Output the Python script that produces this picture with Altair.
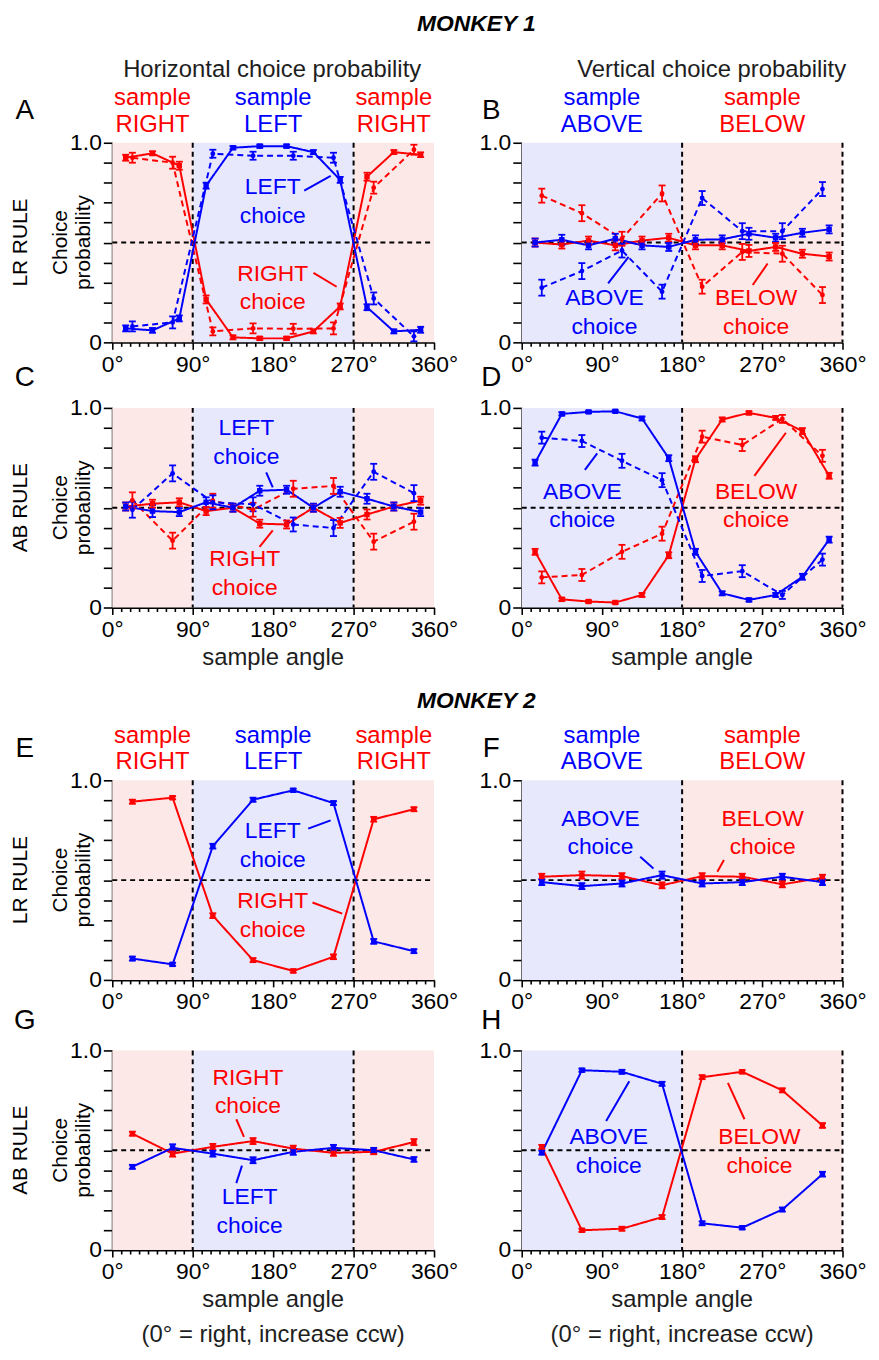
import altair as alt
import pandas as pd

FONT = "Liberation Sans"
RED = "#ff0000"
BLUE = "#0000ff"
PINK = "#fde8e8"
LAV = "#e8e8fc"
DARK = "#1e1e1e"

# ---------------- data ----------------
M1_SOLID = [15, 45, 75, 105, 135, 165, 195, 225, 255, 285, 315, 345]
M1_DASH = [22.5, 67.5, 112.5, 157.5, 202.5, 247.5, 292.5, 337.5]
M2_ANG = [22.5, 67.5, 112.5, 157.5, 202.5, 247.5, 292.5, 337.5]

# Panel A (monkey 1, LR rule, horizontal choice)
A_RED_S = [0.925, 0.947, 0.885, 0.215, 0.025, 0.02, 0.02, 0.055, 0.18, 0.83, 0.953, 0.94]
A_RED_S_E = [0.015, 0.01, 0.02, 0.02, 0.01, 0.008, 0.008, 0.01, 0.015, 0.02, 0.01, 0.012]
A_BLUE_S = [0.07, 0.06, 0.12, 0.785, 0.975, 0.983, 0.983, 0.953, 0.814, 0.176, 0.055, 0.063]
A_BLUE_S_E = [0.015, 0.012, 0.015, 0.015, 0.008, 0.008, 0.008, 0.01, 0.015, 0.015, 0.01, 0.015]
A_RED_D = [0.925, 0.90, 0.055, 0.07, 0.068, 0.07, 0.775, 0.965]
A_RED_D_E = [0.025, 0.03, 0.02, 0.025, 0.025, 0.03, 0.03, 0.025]
A_BLUE_D = [0.08, 0.10, 0.945, 0.935, 0.935, 0.925, 0.22, 0.03]
A_BLUE_D_E = [0.025, 0.03, 0.02, 0.02, 0.02, 0.025, 0.03, 0.025]

# Panel B (monkey 1, LR rule, vertical choice)
B_BLUE_S = [0.50, 0.514, 0.486, 0.519, 0.486, 0.478, 0.514, 0.516, 0.544, 0.524, 0.549, 0.566]
B_BLUE_S_E = [0.02, 0.025, 0.02, 0.025, 0.02, 0.02, 0.022, 0.02, 0.03, 0.02, 0.02, 0.02]
B_RED_S = [0.50, 0.49, 0.51, 0.486, 0.51, 0.524, 0.486, 0.486, 0.458, 0.478, 0.444, 0.43]
B_RED_S_E = [0.02, 0.02, 0.02, 0.025, 0.02, 0.02, 0.02, 0.02, 0.03, 0.02, 0.02, 0.02]
B_BLUE_D = [0.274, 0.357, 0.46, 0.254, 0.723, 0.557, 0.557, 0.768]
B_BLUE_D_E = [0.04, 0.04, 0.035, 0.035, 0.035, 0.04, 0.04, 0.035]
B_RED_D = [0.735, 0.647, 0.519, 0.746, 0.279, 0.453, 0.444, 0.237]
B_RED_D_E = [0.035, 0.04, 0.035, 0.04, 0.035, 0.04, 0.04, 0.04]

# Panel C (monkey 1, AB rule, horizontal choice)
C_BLUE_S = [0.506, 0.483, 0.478, 0.527, 0.5, 0.585, 0.59, 0.5, 0.58, 0.545, 0.506, 0.478]
C_BLUE_S_E = [0.02, 0.03, 0.02, 0.025, 0.02, 0.025, 0.02, 0.02, 0.025, 0.025, 0.02, 0.02]
C_RED_S = [0.506, 0.52, 0.527, 0.483, 0.5, 0.42, 0.416, 0.5, 0.424, 0.466, 0.506, 0.535]
C_RED_S_E = [0.02, 0.02, 0.02, 0.02, 0.02, 0.02, 0.02, 0.02, 0.025, 0.025, 0.02, 0.02]
C_BLUE_D = [0.49, 0.672, 0.527, 0.517, 0.416, 0.398, 0.68, 0.573]
C_BLUE_D_E = [0.04, 0.04, 0.035, 0.035, 0.035, 0.04, 0.04, 0.04]
C_RED_D = [0.537, 0.335, 0.535, 0.49, 0.595, 0.609, 0.33, 0.43]
C_RED_D_E = [0.04, 0.04, 0.035, 0.035, 0.04, 0.04, 0.04, 0.04]

# Panel D (monkey 1, AB rule, vertical choice)
D_BLUE_S = [0.726, 0.97, 0.98, 0.983, 0.947, 0.748, 0.279, 0.071, 0.038, 0.063, 0.154, 0.34]
D_BLUE_S_E = [0.015, 0.008, 0.006, 0.006, 0.01, 0.015, 0.015, 0.01, 0.008, 0.01, 0.015, 0.015]
D_RED_S = [0.279, 0.041, 0.03, 0.025, 0.063, 0.262, 0.743, 0.942, 0.975, 0.95, 0.884, 0.66]
D_RED_S_E = [0.015, 0.008, 0.006, 0.006, 0.01, 0.015, 0.015, 0.01, 0.008, 0.01, 0.015, 0.015]
D_BLUE_D = [0.851, 0.834, 0.735, 0.638, 0.158, 0.182, 0.063, 0.24]
D_BLUE_D_E = [0.03, 0.03, 0.035, 0.035, 0.03, 0.03, 0.02, 0.03]
D_RED_D = [0.151, 0.163, 0.279, 0.37, 0.856, 0.814, 0.945, 0.76]
D_RED_D_E = [0.03, 0.03, 0.035, 0.035, 0.03, 0.03, 0.02, 0.03]

# Panel E (monkey 2, LR rule, horizontal choice)
E_RED = [0.893, 0.913, 0.322, 0.099, 0.045, 0.116, 0.805, 0.855]
E_RED_E = [0.01, 0.008, 0.012, 0.01, 0.008, 0.012, 0.012, 0.01]
E_BLUE = [0.107, 0.078, 0.67, 0.903, 0.95, 0.886, 0.193, 0.144]
E_BLUE_E = [0.01, 0.008, 0.012, 0.01, 0.008, 0.01, 0.012, 0.01]

# Panel F (monkey 2, LR rule, vertical choice)
F_RED = [0.517, 0.525, 0.52, 0.474, 0.52, 0.517, 0.479, 0.512]
F_RED_E = [0.015, 0.018, 0.015, 0.015, 0.015, 0.015, 0.015, 0.015]
F_BLUE = [0.49, 0.47, 0.483, 0.525, 0.483, 0.49, 0.517, 0.49]
F_BLUE_E = [0.015, 0.015, 0.015, 0.018, 0.015, 0.015, 0.015, 0.015]

# Panel G (monkey 2, AB rule, horizontal choice)
G_RED = [0.583, 0.483, 0.517, 0.546, 0.508, 0.487, 0.492, 0.541]
G_RED_E = [0.01, 0.015, 0.015, 0.015, 0.015, 0.015, 0.012, 0.015]
G_BLUE = [0.417, 0.512, 0.483, 0.45, 0.492, 0.512, 0.5, 0.454]
G_BLUE_E = [0.01, 0.018, 0.015, 0.015, 0.015, 0.015, 0.012, 0.012]

# Panel H (monkey 2, AB rule, vertical choice)
H_BLUE = [0.488, 0.901, 0.893, 0.833, 0.134, 0.112, 0.203, 0.38]
H_BLUE_E = [0.01, 0.008, 0.01, 0.01, 0.01, 0.008, 0.01, 0.012]
H_RED = [0.517, 0.099, 0.107, 0.165, 0.866, 0.893, 0.8, 0.624]
H_RED_E = [0.01, 0.008, 0.01, 0.01, 0.01, 0.008, 0.01, 0.012]

HORIZ_REGIONS = [(0, 90, PINK), (90, 270, LAV), (270, 360, PINK)]
VERT_REGIONS = [(0, 180, LAV), (180, 360, PINK)]
HORIZ_VLINES = [90, 270]
VERT_VLINES = [180, 360]

# ---------------- layout constants ----------------
WL, WR, PH = 324, 323, 201
HS = 88.3                        # horizontal gap between columns
GAP_AC, GAP_CE, GAP_EG = 65.6, 173.7, 70.7   # vertical gaps between panel rows


def ser(angles, vals, errs, color, style):
    return [dict(angle=a, p=v, lo=v - e, hi=v + e, color=color, style=style,
                 series=color + style) for a, v, e in zip(angles, vals, errs)]


def panel(W, series, regions, vlines, texts, pointers):
    xs = alt.Scale(domain=[0, 360], nice=False, zero=False)
    ys = alt.Scale(domain=[0, 1], nice=False, zero=False)

    def fx(px):
        return px * 360.0 / W

    def fy(py):
        return 1.0 - py / PH

    xaxis = alt.Axis(
        values=list(range(0, 361, 10)),
        labelExpr="datum.value % 90 === 0 ? datum.value + '°' : ''",
        tickSize={"condition": {"test": "datum.value % 90 === 0", "value": 7}, "value": 4},
        title=None, grid=False, domainColor="black", domainWidth=2,
        tickColor="black", tickWidth=1.6, labelFontSize=23, labelFont=FONT,
        labelColor="black", labelPadding=4, labelFlush=False, labelOverlap=False)
    yaxis = alt.Axis(
        values=[round(i * 0.1, 1) for i in range(11)],
        labelExpr="datum.value === 0 ? '0' : (datum.value > 0.99 ? '1.0' : '')",
        tickSize=9, title=None, grid=False, domainColor="black", domainWidth=2,
        tickColor="black", tickWidth=1.6, labelFontSize=23, labelFont=FONT,
        labelColor="black", labelPadding=2, labelFlush=False, labelOverlap=False)

    def XE(f):
        return alt.X(f, scale=xs, axis=xaxis)

    def YE(f):
        return alt.Y(f, scale=ys, axis=yaxis)

    rdf = pd.DataFrame([dict(x0=a, x1=b, y0=0, y1=1, fill=c) for a, b, c in regions])
    bg = alt.Chart(rdf).mark_rect().encode(
        x=XE("x0:Q"), x2="x1:Q", y=YE("y0:Q"), y2="y1:Q",
        fill=alt.Fill("fill:N", scale=None))

    vdf = pd.DataFrame({"a": vlines})
    vl = alt.Chart(vdf).mark_rule(color="black", strokeWidth=2, strokeDash=[5, 4]).encode(
        x=XE("a:Q"), y=alt.value(0), y2=alt.value(PH))
    hl = alt.Chart(pd.DataFrame({"p": [0.5]})).mark_rule(
        color="black", strokeWidth=2, strokeDash=[5, 4]).encode(
        y=YE("p:Q"), x=alt.value(0), x2=alt.value(W))

    rows = []
    for s in series:
        rows += ser(*s)
    sdf = pd.DataFrame(rows)
    col = alt.Color("color:N", scale=None)
    lines = alt.Chart(sdf).mark_line(strokeWidth=2).encode(
        x=XE("angle:Q"), y=YE("p:Q"), color=col, detail="series:N",
        strokeDash=alt.StrokeDash("style:N", scale=alt.Scale(
            domain=["solid", "dashed"], range=[[1, 0], [6, 4]]), legend=None))
    err = alt.Chart(sdf).mark_rule(strokeWidth=1.8).encode(
        x=XE("angle:Q"), y=YE("lo:Q"), y2="hi:Q", color=col)
    cap_lo = alt.Chart(sdf).mark_point(shape="M-1,0L1,0", size=49, strokeWidth=1.8,
                                       filled=False, opacity=1).encode(
        x=XE("angle:Q"), y=YE("lo:Q"), color=col)
    cap_hi = alt.Chart(sdf).mark_point(shape="M-1,0L1,0", size=49, strokeWidth=1.8,
                                       filled=False, opacity=1).encode(
        x=XE("angle:Q"), y=YE("hi:Q"), color=col)
    pts_s = alt.Chart(sdf).transform_filter(alt.datum.style == "solid").mark_point(
        shape="square", size=30, filled=True, opacity=1).encode(
        x=XE("angle:Q"), y=YE("p:Q"), color=col)
    pts_d = alt.Chart(sdf).transform_filter(alt.datum.style == "dashed").mark_point(
        shape="circle", size=24, filled=True, opacity=1).encode(
        x=XE("angle:Q"), y=YE("p:Q"), color=col)

    layers = [bg, vl, hl, lines, err, cap_lo, cap_hi, pts_s, pts_d]

    if pointers:
        pdf = pd.DataFrame([dict(ax=fx(a), ay=fy(b), bx=fx(c), by=fy(d), color=k)
                            for a, b, c, d, k in pointers])
        layers.append(alt.Chart(pdf).mark_rule(strokeWidth=2).encode(
            x=XE("ax:Q"), y=YE("ay:Q"), x2="bx:Q", y2="by:Q", color=col))

    tdf = pd.DataFrame(texts)
    tdf["tx"] = tdf["px"].apply(fx)
    tdf["ty"] = tdf["py"].apply(fy)
    for (lh, bold), g in tdf.groupby(["lh", "bold"]):
        layers.append(alt.Chart(g.reset_index(drop=True)).mark_text(
            font=FONT, align="center", baseline="middle", lineBreak="\n", lineHeight=float(lh),
            fontWeight="bold" if bold else "normal",
            fontStyle="italic" if bold else "normal").encode(
            x=XE("tx:Q"), y=YE("ty:Q"),
            text="text:N", color=col, size=alt.Size("size:Q", scale=None),
            angle=alt.Angle("angle:Q", scale=None)))

    return alt.layer(*layers).properties(width=W, height=PH)


def spacer(W, h):
    return alt.Chart(pd.DataFrame({"a": [0]})).mark_point(opacity=0).encode(
        x=alt.value(0), y=alt.value(0)).properties(width=W, height=h)


def T(text, px, py, color=DARK, size=23, angle=0, lh=29, bold=False):
    # (px, py) is the centre of the whole text block; Vega anchors the first line,
    # so shift by half of the extra lines.
    shift = text.count("\n") * lh / 2.0
    if angle == 270:
        px -= shift
    else:
        py -= shift
    return dict(text=text, px=px, py=py, color=color, size=size, angle=angle, lh=lh, bold=bold)


def hdr(text, deg, W, color):
    return T(text, deg * W / 360.0, -31.4, color, 24, 0, 27)


def left_labels(rule):
    return [T(rule, -91.4, 100.5, "black", 21, 270, 23),
            T("Choice\nprobability", -40, 100.5, "black", 21, 270, 23)]


# ---------------- panels ----------------
pA = panel(WL, [
    (M1_SOLID, A_RED_S, A_RED_S_E, RED, "solid"),
    (M1_DASH, A_RED_D, A_RED_D_E, RED, "dashed"),
    (M1_SOLID, A_BLUE_S, A_BLUE_S_E, BLUE, "solid"),
    (M1_DASH, A_BLUE_D, A_BLUE_D_E, BLUE, "dashed")],
    HORIZ_REGIONS, HORIZ_VLINES,
    [T("LEFT\nchoice", 161.6, 59.3, BLUE), T("RIGHT\nchoice", 161.6, 146.3, RED),
     hdr("sample\nRIGHT", 45, WL, RED), hdr("sample\nLEFT", 180, WL, BLUE), hdr("sample\nRIGHT", 315, WL, RED),
     T("Horizontal choice probability", 161, -73.7, DARK, 24),
     T("MONKEY 1", 366.6, -120, "black", 23, 0, 29, True),
     T("A", -88, -31.7, "black", 28)] + left_labels("LR RULE"),
    [(193.3, 48.3, 219.9, 33.3, BLUE), (202.6, 131, 225.9, 145, RED)])

pB = panel(WR, [
    (M1_SOLID, B_RED_S, B_RED_S_E, RED, "solid"),
    (M1_DASH, B_RED_D, B_RED_D_E, RED, "dashed"),
    (M1_SOLID, B_BLUE_S, B_BLUE_S_E, BLUE, "solid"),
    (M1_DASH, B_BLUE_D, B_BLUE_D_E, BLUE, "dashed")],
    VERT_REGIONS, VERT_VLINES,
    [T("ABOVE\nchoice", 83.3, 171.1, BLUE), T("BELOW\nchoice", 236, 171.1, RED),
     hdr("sample\nABOVE", 90, WR, BLUE), hdr("sample\nBELOW", 270, WR, RED),
     T("Vertical choice probability", 191.3, -73.7, DARK, 24),
     T("B", -30.7, -31.7, "black", 28)],
    [(87, 141.6, 107.6, 115, BLUE), (232.6, 143.3, 247.6, 121.6, RED)])

pC = panel(WL, [
    (M1_SOLID, C_RED_S, C_RED_S_E, RED, "solid"),
    (M1_DASH, C_RED_D, C_RED_D_E, RED, "dashed"),
    (M1_SOLID, C_BLUE_S, C_BLUE_S_E, BLUE, "solid"),
    (M1_DASH, C_BLUE_D, C_BLUE_D_E, BLUE, "dashed")],
    HORIZ_REGIONS, HORIZ_VLINES,
    [T("LEFT\nchoice", 135, 34.5, BLUE), T("RIGHT\nchoice", 133.3, 166.4, RED),
     T("sample angle", 162, 251.7, DARK, 24),
     T("C", -88, -30, "black", 28)] + left_labels("AB RULE"),
    [(155, 65, 161.6, 80, BLUE), (148.3, 140, 161.6, 123.4, RED)])

pD = panel(WR, [
    (M1_SOLID, D_RED_S, D_RED_S_E, RED, "solid"),
    (M1_DASH, D_RED_D, D_RED_D_E, RED, "dashed"),
    (M1_SOLID, D_BLUE_S, D_BLUE_S_E, BLUE, "solid"),
    (M1_DASH, D_BLUE_D, D_BLUE_D_E, BLUE, "dashed")],
    VERT_REGIONS, VERT_VLINES,
    [T("ABOVE\nchoice", 61, 98.9, BLUE), T("BELOW\nchoice", 236, 98.9, RED),
     T("sample angle", 161.5, 251.7, DARK, 24),
     T("D", -30.7, -30, "black", 28)],
    [(63.6, 62.4, 76, 45.7, BLUE), (234.3, 68.4, 266, 25, RED)])

pE = panel(WL, [
    (M2_ANG, E_RED, E_RED_E, RED, "solid"),
    (M2_ANG, E_BLUE, E_BLUE_E, BLUE, "solid")],
    HORIZ_REGIONS, HORIZ_VLINES,
    [T("LEFT\nchoice", 161.6, 65.8, BLUE), T("RIGHT\nchoice", 161.6, 136.2, RED),
     hdr("sample\nRIGHT", 45, WL, RED), hdr("sample\nLEFT", 180, WL, BLUE), hdr("sample\nRIGHT", 315, WL, RED),
     T("MONKEY 2", 366.6, -80, "black", 23, 0, 29, True),
     T("E", -88, -31.7, "black", 28)] + left_labels("LR RULE"),
    [(197.3, 48.7, 219.9, 40.3, BLUE), (201.6, 123, 231.6, 134.3, RED)])

pF = panel(WR, [
    (M2_ANG, F_RED, F_RED_E, RED, "solid"),
    (M2_ANG, F_BLUE, F_BLUE_E, BLUE, "solid")],
    VERT_REGIONS, VERT_VLINES,
    [T("ABOVE\nchoice", 79.3, 53.2, BLUE), T("BELOW\nchoice", 242.6, 53.2, RED),
     hdr("sample\nABOVE", 90, WR, BLUE), hdr("sample\nBELOW", 270, WR, RED),
     T("F", -30.7, -31.7, "black", 28)],
    [(119.3, 77, 132.6, 88.7, BLUE), (203.6, 80.3, 197, 92, RED)])

pG = panel(WL, [
    (M2_ANG, G_RED, G_RED_E, RED, "solid"),
    (M2_ANG, G_BLUE, G_BLUE_E, BLUE, "solid")],
    HORIZ_REGIONS, HORIZ_VLINES,
    [T("RIGHT\nchoice", 136.6, 41.8, RED), T("LEFT\nchoice", 138.3, 162.3, BLUE),
     T("sample angle", 162, 251.7, DARK, 24),
     T("(0° = right, increase ccw)", 162, 286.7, DARK, 24),
     T("G", -88, -30, "black", 28)] + left_labels("AB RULE"),
    [(124.9, 69.3, 132.6, 87, RED), (124.9, 133.6, 130.6, 116, BLUE)])

pH = panel(WR, [
    (M2_ANG, H_RED, H_RED_E, RED, "solid"),
    (M2_ANG, H_BLUE, H_BLUE_E, BLUE, "solid")],
    VERT_REGIONS, VERT_VLINES,
    [T("ABOVE\nchoice", 87.6, 101.5, BLUE), T("BELOW\nchoice", 239.3, 101.5, RED),
     T("sample angle", 161.5, 251.7, DARK, 24),
     T("(0° = right, increase ccw)", 161.5, 286.7, DARK, 24),
     T("H", -30.7, -30, "black", 28)],
    [(85, 71, 108.3, 31, BLUE), (224.3, 69.3, 207.6, 32.6, RED)])

chart = alt.concat(
    pA, pB,
    spacer(WL, GAP_AC), spacer(WR, GAP_AC),
    pC, pD,
    spacer(WL, GAP_CE), spacer(WR, GAP_CE),
    pE, pF,
    spacer(WL, GAP_EG), spacer(WR, GAP_EG),
    pG, pH,
    columns=2, spacing={"row": 0, "column": HS}, bounds="flush"
).properties(
    padding={"left": 2, "top": 0, "right": 4, "bottom": 4}
).configure_view(stroke=None)

chart.save("out.html", embed_options={"renderer": "svg", "actions": False})
